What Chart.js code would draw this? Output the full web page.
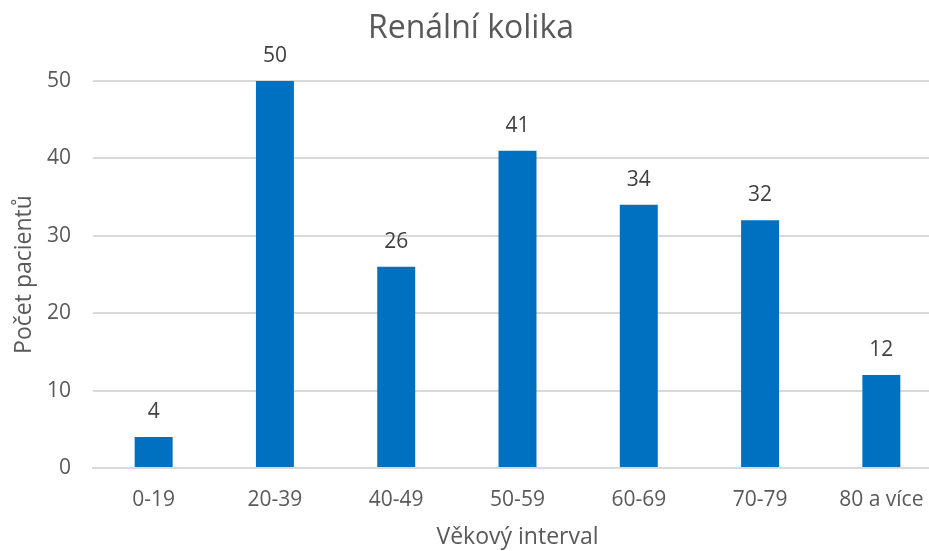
<!DOCTYPE html>
<html>
<head>
<meta charset="utf-8">
<script src="https://cdn.jsdelivr.net/npm/chart.js@4"></script>
<style>
  html, body { margin: 0; padding: 0; background: #fff; overflow: hidden; }
  #wrap { width: 945px; height: 551px; }
</style>
</head>
<body>
<div id="wrap"><canvas id="chart" width="945" height="551"></canvas></div>
<script>
// chart data
const categories = ['0-19', '20-39', '40-49', '50-59', '60-69', '70-79', '80 a více'];
const patientCounts = [4, 50, 26, 41, 34, 32, 12];
const yTicks = [0, 10, 20, 30, 40, 50];

const textColor = '#595959';
const fontFamily = "'Open Sans', 'Noto Sans', sans-serif";

// draws the value above each bar
const barValueLabels = {
    id: 'barValueLabels',
    afterDatasetsDraw(chart) {
        const ctx = chart.ctx;
        ctx.save();
        ctx.fillStyle = '#404040';
        ctx.font = '21px ' + fontFamily;
        ctx.textAlign = 'center';
        ctx.textBaseline = 'middle';
        chart.getDatasetMeta(0).data.forEach((bar, i) => {
            ctx.fillText(String(patientCounts[i]), bar.x, bar.y - 25);
        });
        ctx.restore();
    }
};

const ctx = document.getElementById('chart').getContext('2d');
new Chart(ctx, {
    type: 'bar',
    data: {
        labels: categories,
        datasets: [{
            data: patientCounts,
            backgroundColor: '#0070C0',
            borderWidth: 0,
            categoryPercentage: 1,
            barPercentage: 0.313
        }]
    },
    options: {
        responsive: false,
        animation: false,
        layout: { padding: { left: 0, right: 3, top: 0, bottom: 0 } },
        plugins: {
            legend: { display: false },
            tooltip: { enabled: false },
            title: {
                display: true,
                text: 'Renální kolika',
                color: textColor,
                font: { family: fontFamily, size: 32, weight: 'normal' },
                padding: { top: 10, bottom: 32.6 }
            }
        },
        scales: {
            x: {
                afterFit(scale) { scale.height = 83; },
                grid: { display: false, drawTicks: false },
                border: { display: true, color: '#D9D9D9', width: 2 },
                ticks: {
                    color: textColor,
                    font: { family: fontFamily, size: 21 },
                    padding: 19,
                    maxRotation: 0
                },
                title: {
                    display: true,
                    text: 'Věkový interval',
                    color: textColor,
                    font: { family: fontFamily, size: 23 },
                    padding: { top: 0, bottom: 0 }
                }
            },
            y: {
                min: 0,
                max: 50,
                afterBuildTicks(scale) {
                    scale.ticks = yTicks.map(v => ({ value: v }));
                },
                afterFit(scale) { scale.width = 93; },
                grid: { color: '#D9D9D9', lineWidth: 2, drawTicks: false },
                border: { display: false },
                ticks: {
                    color: textColor,
                    font: { family: fontFamily, size: 21 },
                    padding: 22
                },
                title: {
                    display: true,
                    text: 'Počet pacientů',
                    color: textColor,
                    font: { family: fontFamily, size: 23 },
                    padding: { top: 11, bottom: 0 }
                }
            }
        }
    },
    plugins: [barValueLabels]
});
</script>
</body>
</html>
